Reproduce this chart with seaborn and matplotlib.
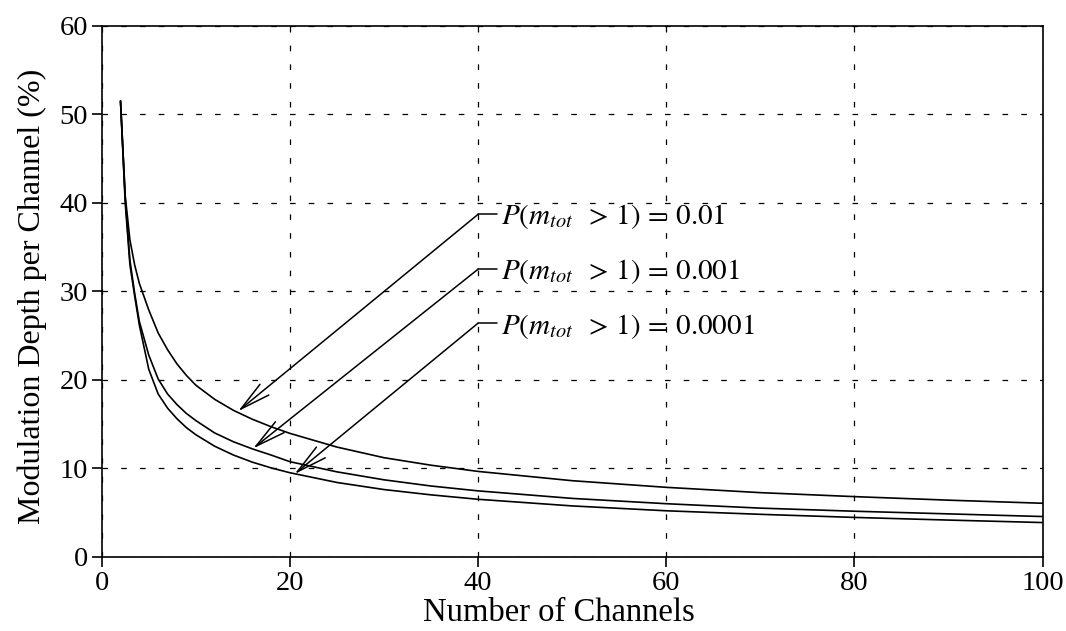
import matplotlib
matplotlib.use("Agg")
import matplotlib.pyplot as plt
import numpy as np
import pandas as pd
import seaborn as sns

# Number of channels sampled along each curve
channels = [2, 2.5, 3, 3.5, 4, 5, 6, 7, 8, 9, 10, 12, 14, 16, 18, 20,
            25, 30, 35, 40, 50, 60, 70, 80, 90, 100]

# Allowed modulation depth per channel (%) for each clipping probability
depth_p1e2 = [51.5, 40.8, 35.8, 33.0, 30.9, 27.9, 25.3, 23.4, 21.8, 20.5,
              19.4, 17.8, 16.55, 15.55, 14.7, 13.95, 12.4, 11.2, 10.35, 9.65,
              8.6, 7.85, 7.25, 6.8, 6.4, 6.05]
depth_p1e3 = [51.5, 40.5, 33.5, 29.8, 26.6, 22.8, 20.1, 18.4, 17.2, 16.2,
              15.4, 14.0, 13.0, 12.2, 11.5, 10.75, 9.6, 8.7, 8.0, 7.45,
              6.6, 6.0, 5.5, 5.15, 4.85, 4.55]
depth_p1e4 = [51.5, 40.0, 33.0, 29.5, 26.2, 21.2, 18.4, 16.8, 15.6, 14.6,
              13.8, 12.5, 11.5, 10.7, 10.05, 9.5, 8.4, 7.6, 7.0, 6.5,
              5.75, 5.2, 4.8, 4.45, 4.15, 3.87]

series_names = ["0.01", "0.001", "0.0001"]
series_values = [depth_p1e2, depth_p1e3, depth_p1e4]

x_ticks = [0, 20, 40, 60, 80, 100]
y_ticks = [0, 10, 20, 30, 40, 50, 60]

# Callout text for each curve: label, arrow tip on the curve
callout_labels = [r"$P(m_{tot}\;\;>\,1)\,=\,0.01$",
                  r"$P(m_{tot}\;\;>\,1)\,=\,0.001$",
                  r"$P(m_{tot}\;\;>\,1)\,=\,0.0001$"]
callout_tips = [(14.5, 16.45), (16.1, 12.25), (20.5, 9.35)]
callout_leader_y = [38.7, 32.5, 26.4]
callout_text_y = [37.6, 31.4, 25.2]

frame = pd.concat(
    [pd.DataFrame({"channels": channels, "depth": vals, "prob": name})
     for name, vals in zip(series_names, series_values)],
    ignore_index=True,
)

sns.set_theme(style="ticks")
plt.rcParams["font.family"] = ["Liberation Serif", "DejaVu Serif"]
plt.rcParams["mathtext.fontset"] = "stix"

fig = plt.figure(figsize=(10.66, 6.31), dpi=100)
ax = fig.add_axes([0.0954, 0.1176, 0.8826, 0.8414])

sns.lineplot(data=frame, x="channels", y="depth", hue="prob",
             palette=["black"] * 3, legend=False, linewidth=1.2,
             sort=True, estimator=None, ax=ax)

ax.set_xlim(0, 100)
ax.set_ylim(0, 60)
ax.set_xticks(x_ticks)
ax.set_yticks(y_ticks)

ax.set_axisbelow(True)
ax.grid(True, color="black", linestyle=(0, (4.5, 10.5)), linewidth=0.9)

for side in ["left", "right", "top", "bottom"]:
    ax.spines[side].set_visible(True)
    ax.spines[side].set_color("black")
    ax.spines[side].set_linewidth(1.2)

ax.tick_params(direction="out", length=7, width=1.2, color="black",
               labelsize=20.5, pad=3, labelcolor="black")

ax.set_xlabel("Number of Channels", fontsize=23.5, labelpad=1, color="black")
ax.set_ylabel("Modulation Depth per Channel (%)", fontsize=23, labelpad=9,
              color="black")
ax.xaxis.label.set_x(0.486)
ax.yaxis.label.set_y(0.49)

arrow_style = matplotlib.patches.ArrowStyle("->", head_length=2.2, head_width=0.5)
for label, tip, ly, ty in zip(callout_labels, callout_tips,
                              callout_leader_y, callout_text_y):
    ax.annotate("", xy=tip, xytext=(40.0, ly),
                arrowprops=dict(arrowstyle=arrow_style, color="black",
                                lw=1.1, shrinkA=0, shrinkB=0,
                                mutation_scale=10))
    ax.plot([40.0, 42.0], [ly, ly], color="black", lw=1.1)
    ax.text(42.4, ty, label, fontsize=21, va="baseline", ha="left",
            color="black")

fig.savefig("out.png", dpi=100)
